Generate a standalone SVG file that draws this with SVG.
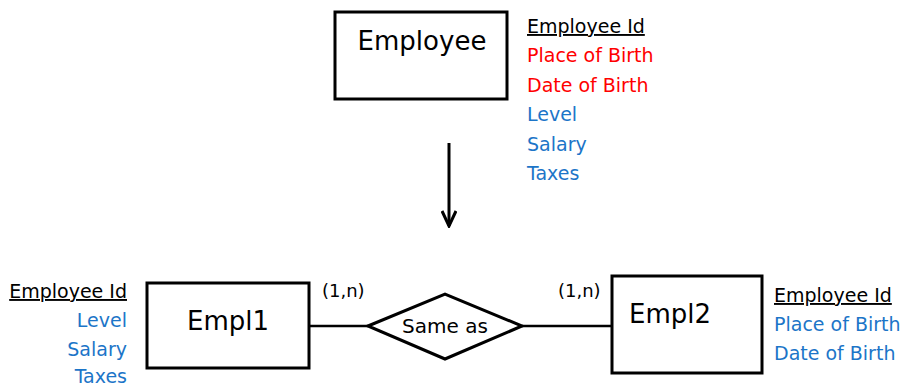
<svg xmlns="http://www.w3.org/2000/svg" width="909" height="387" viewBox="0 0 909 387">
<defs>
<style>
text{font-family:"Comic Sans MS","DejaVu Sans",sans-serif;}
.box{fill:#fff;stroke:#000;stroke-width:3;}
.title{font-size:26px;fill:#000;}
.attr{font-size:19px;}
.key{fill:#000;text-decoration:underline;}
.red{fill:#FF0000;}
.blue{fill:#1C75C8;}
.line{stroke:#000;stroke-width:2.5;fill:none;}
.card{font-size:18px;fill:#000;}
</style>
<marker id="vhead" viewBox="0 0 18 16" refX="16" refY="8" markerWidth="18" markerHeight="16" markerUnits="userSpaceOnUse" orient="auto">
<path d="M1,1 L16,8 L1,15" fill="none" stroke="#000" stroke-width="3"/>
</marker>
</defs>
<g id="employee">
<rect class="box" x="335" y="12" width="172" height="87"/>
<text class="title" x="422" y="50" text-anchor="middle">Employee</text>
<text class="attr key" x="527" y="33">Employee Id</text>
<text class="attr red" x="527" y="62">Place of Birth</text>
<text class="attr red" x="527" y="91.5">Date of Birth</text>
<text class="attr blue" x="527" y="121">Level</text>
<text class="attr blue" x="527" y="150.5">Salary</text>
<text class="attr blue" x="527" y="180">Taxes</text>
</g>
<g id="empl1">
<rect class="box" x="147" y="283" width="162" height="85"/>
<text class="title" x="228" y="330" text-anchor="middle">Empl1</text>
<text class="attr key" x="127" y="298" text-anchor="end">Employee Id</text>
<text class="attr blue" x="127" y="327" text-anchor="end">Level</text>
<text class="attr blue" x="127" y="356" text-anchor="end">Salary</text>
<text class="attr blue" x="127" y="383" text-anchor="end">Taxes</text>
</g>
<g id="sameas">
<polygon class="box" points="368,326 445,294 522,326 445,359"/>
<text x="445" y="333" text-anchor="middle" style="font-size:20px;fill:#000">Same as</text>
</g>
<g id="empl2">
<rect class="box" x="612" y="276" width="150" height="97"/>
<text class="title" x="670" y="323" text-anchor="middle">Empl2</text>
<text class="attr key" x="774" y="302">Employee Id</text>
<text class="attr blue" x="774" y="331">Place of Birth</text>
<text class="attr blue" x="774" y="360">Date of Birth</text>
</g>
<g id="connectors">
<line class="line" x1="449" y1="143" x2="449" y2="226" style="stroke-width:3" marker-end="url(#vhead)"/>
<line class="line" x1="309" y1="326" x2="368" y2="326"/>
<line class="line" x1="522" y1="326" x2="612" y2="326"/>
<text class="card" x="322" y="297">(1,n)</text>
<text class="card" x="558" y="297">(1,n)</text>
</g>
</svg>
